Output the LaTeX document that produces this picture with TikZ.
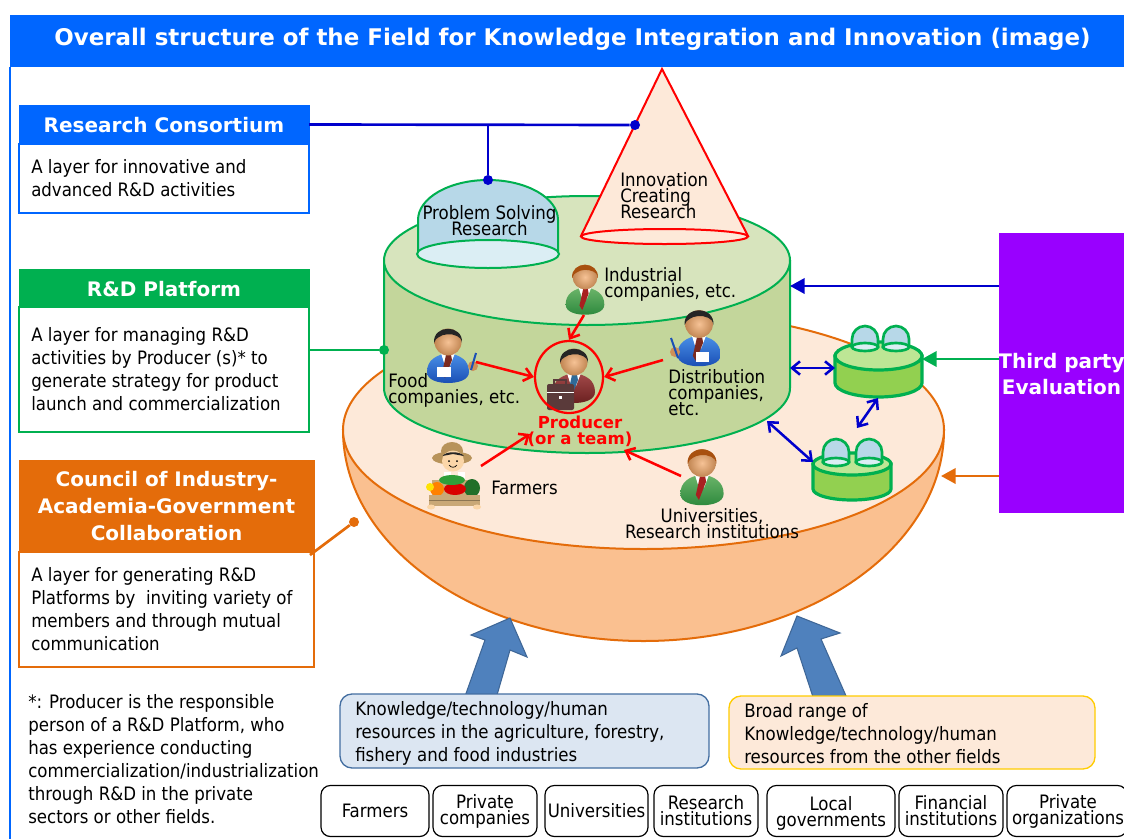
\documentclass[tikz,border=0pt]{standalone}
\usepackage{fontspec}
\setmainfont{DejaVu Sans Condensed}
\newfontfamily\hdrfont{DejaVu Sans}
\usetikzlibrary{arrows.meta,shapes.geometric}
\newcommand{\tightls}{\lineskiplimit -30pt\relax}
\definecolor{hblue}{HTML}{0066FF}
\definecolor{hgreen}{HTML}{00B050}
\definecolor{horange}{HTML}{E46C0A}
\definecolor{lineblue}{HTML}{0000CC}
\definecolor{purp}{HTML}{9900FF}
\definecolor{cylbody}{HTML}{C3D69B}
\definecolor{cyltop}{HTML}{D7E4BD}
\definecolor{peach}{HTML}{FDE9D9}
\definecolor{bowl}{HTML}{FAC090}
\definecolor{dome}{HTML}{B7D8E8}
\definecolor{domelt}{HTML}{DBEEF4}
\definecolor{smbody}{HTML}{92D050}
\definecolor{smtop}{HTML}{BDE695}
\definecolor{bigarrow}{HTML}{4F81BD}
\definecolor{kbfill}{HTML}{DCE6F2}
\definecolor{skin}{HTML}{F2A868}
\definecolor{suitgl}{HTML}{6DB56A}
\definecolor{suitgd}{HTML}{2E8A3E}
\definecolor{suitbl}{HTML}{4A90E8}
\definecolor{suitbd}{HTML}{1A4FB5}
\definecolor{suitrl}{HTML}{A34A4A}
\definecolor{suitrd}{HTML}{6B2020}
\definecolor{hairb}{HTML}{A8500F}
\definecolor{hairk}{HTML}{252525}
\definecolor{tier}{HTML}{A82020}
\definecolor{tieb}{HTML}{7A2A20}
\definecolor{tiep}{HTML}{2F6A98}
\definecolor{tan}{HTML}{B8935A}
\definecolor{boxtan}{HTML}{C9A877}
\definecolor{facec}{HTML}{FBD6A8}
\definecolor{leaf}{HTML}{2F9E3A}
\definecolor{bcase}{HTML}{5A3A3A}
\tikzset{
  boxdim/.style 2 args={minimum width=#1*0.75pt,minimum height=#2*0.75pt,inner sep=0pt,outer sep=0pt},
  hdrtext/.style={font=\fontsize{15}{20}\hdrfont\bfseries,text=white,align=center},
  bodytext/.style={font=\fontsize{13.85}{17.25}\selectfont,align=left,text=black,inner sep=0pt},
  tight/.style={font=\fontsize{13.85}{12}\selectfont\tightls,align=center,text=black,inner sep=0pt},
  tightl/.style={font=\fontsize{13.85}{12}\selectfont\tightls,align=left,text=black,inner sep=0pt},
  dot/.style={circle,inner sep=0pt,minimum size=7.5pt},
  ol/.style={line width=2pt},
  filledtip/.style={-{Triangle[length=11pt,width=11.5pt]},line width=2pt},
  barbtip/.style={-{Straight Barb[length=6pt,width=10pt]},line width=1.9pt,red},
  dbl/.style={{Straight Barb[length=6pt,width=10pt]}-{Straight Barb[length=6pt,width=10pt]},line width=1.9pt,lineblue},
  gbox/.style={draw=black,fill=white,rounded corners=7pt,line width=0.9pt},
  cylst/.style={draw=hgreen,line width=1.5pt},
  smst/.style={draw=hgreen,line width=2.4pt},
  bigar/.style={fill=bigarrow,draw=bigarrow!80!black,line width=0.8pt,line join=miter},
}
% person: x, y, scale, suit light, suit dark, hair, tie
\newcommand{\personicon}[7]{%
  \begin{scope}[shift={(#1,#2)},scale=#3]
    \path[top color=#4,bottom color=#5] (-21,30) .. controls (-21,18) and (-12,13) .. (0,11) .. controls (12,13) and (21,18) .. (21,30) .. controls (21,38) and (10,41) .. (0,41) .. controls (-10,41) and (-21,38) .. (-21,30) -- cycle;
    \fill[white] (-7,11) -- (7,11) -- (2,24) -- (-3,24) -- cycle;
    \fill[#7] (-2,13) -- (3,13) -- (4,18) -- (-3,36) -- (-6,31) -- cycle;
    \shade[inner color=skin!70!white,outer color=skin!80!black] (0,0) circle[radius=13.5];
    \fill[#6] (-14,1) .. controls (-15.5,-18) and (15.5,-18) .. (14,1) .. controls (13.5,-3) and (11.5,-5) .. (9,-6) .. controls (3,-9) and (-5,-8) .. (-9,-5) .. controls (-11,-4) and (-13.5,-2) .. (-14,1) -- cycle;
  \end{scope}}
\begin{document}
\begin{tikzpicture}[x=0.75pt,y=-0.75pt]
\useasboundingbox (0,0) rectangle (1124,839);
\fill[white] (0,0) rectangle (1124,839);
% frame and title
\draw[hblue,line width=0.8pt] (10,67) -- (10,839);
\node[boxdim={1114}{52},fill=hblue] (titlebar) at (567,41) {};
\node[hdrtext,font=\fontsize{17.2}{22}\hdrfont\bfseries] (titletext) at (572.5,39) {Overall structure of the Field for Knowledge Integration and Innovation (image)};

% bowl
\draw[horange,line width=1.5pt,fill=bowl] (343,430) arc[start angle=180,end angle=0,x radius=300.5,y radius=211] -- cycle;
\draw[horange,line width=1.5pt,fill=peach] (643.5,430) ellipse[x radius=300.5,y radius=119];
\draw[bigar] (510,618) -- (527,657) -- (510,650) -- (497,695) -- (465.5,695) -- (485,640) -- (471,635) -- cycle;
\draw[bigar] (797,616) -- (840,633) -- (821,639) -- (846.5,697) -- (813,697) -- (797,648) -- (781,656) -- cycle;
% cylinder
\draw[cylst,fill=cylbody] (384,261) -- (384,388) arc[start angle=180,end angle=0,x radius=203,y radius=65] -- (790,261) -- cycle;
\draw[cylst,fill=cyltop] (587,260.5) ellipse[x radius=203,y radius=64.5];
% problem solving dome
\draw[cylst,fill=dome] (418,254) -- (418,220) arc[start angle=180,end angle=360,x radius=70,y radius=40] -- (558,254) -- cycle;
\draw[cylst,fill=domelt] (488,254) ellipse[x radius=71,y radius=14];
% cone
\draw[red,line width=1.5pt,fill=peach] (662,69) -- (748,236) arc[start angle=0,end angle=180,x radius=83.5,y radius=7.5] -- cycle;
\draw[red,line width=1.5pt,fill=peach] (664.5,236.5) ellipse[x radius=83.5,y radius=7.5];

\node[tight] (psr) at (489.5,221) {Problem Solving\\Research};
\node[tightl,anchor=west] (icr) at (620,196) {Innovation\\Creating\\Research};

% left column
\node[boxdim={290}{39},fill=hblue,draw=hblue] (rchead) at (164,124.5) {};
\node[hdrtext] (rchtext) at (164,125.5) {Research Consortium};
\node[boxdim={290}{69},draw=hblue,line width=0.8pt,fill=white] (rcbody) at (164,178.5) {};
\node[bodytext,anchor=west] (rctext) at (31,178.5) {A layer for innovative and\\advanced R\&D activities};
\node[boxdim={290}{38},fill=hgreen,draw=hgreen] (rdhead) at (164,288) {};
\node[hdrtext] (rdhtext) at (164,289) {R\&D Platform};
\node[boxdim={290}{125},draw=hgreen,line width=0.8pt,fill=white] (rdbody) at (164,369.5) {};
\node[bodytext,anchor=west] (rdtext) at (31,369.5) {A layer for managing R\&D\\activities by Producer (s)* to\\generate strategy for product\\launch and commercialization};
\node[boxdim={295}{92},fill=horange,draw=horange] (cchead) at (166.5,506) {};
\node[hdrtext,font=\fontsize{15}{20.25}\hdrfont\bfseries] (cchtext) at (cchead) {Council of Industry-\\Academia-Government\\Collaboration};
\node[boxdim={295}{115},draw=horange,line width=0.8pt,fill=white] (ccbody) at (166.5,609.5) {};
\node[bodytext,anchor=west] (cctext) at (31,609.5) {A layer for generating R\&D\\Platforms by\ \ inviting variety of\\members and through mutual\\communication};
\node[bodytext,anchor=north west] (foot) at (28,694) {*: Producer is the responsible\\person of a R\&D Platform, who\\has experience conducting\\commercialization/industrialization\\through R\&D in the private\\sectors or other fields.};

% links from left column
\node[dot,fill=lineblue] (dcone) at (635,125) {};
\node[dot,fill=lineblue] (ddome) at (488,180) {};
\coordinate (jn) at (488,124.5);
\draw[lineblue,ol] (rchead.east) -- (dcone);
\draw[lineblue,ol] (jn) -- (ddome);
\node[dot,fill=hgreen] (dcyl) at (384,350) {};
\draw[hgreen,ol] (rdbody.east |- dcyl) -- (dcyl);
\node[dot,fill=horange] (dbowl) at (354,522) {};
\coordinate (ccj) at (310,555);
\draw[horange,ol] (ccj) -- (dbowl);

% third party
\node[boxdim={125}{280},fill=purp] (third) at (1061.5,373) {};
\node[hdrtext,font=\fontsize{15}{19.5}\hdrfont\bfseries] (thirdtext) at (1061.5,374) {Third party\\Evaluation};
\coordinate (t1) at (790,286);
\coordinate (t2) at (922,359);
\coordinate (t3) at (941,476);
\draw[lineblue,filledtip] (third.west |- t1) -- (t1);
\draw[hgreen,filledtip] (third.west |- t2) -- (t2);
\draw[horange,filledtip] (third.west |- t3) -- (t3);

% small cylinders
\foreach \cx/\cy/\rx/\ry/\h/\da/\db/\dt/\dbase in {878.5/356/43.5/14/27/865/896/326/347, 852/464/39/11/25/836/869/439/462}{
  \draw[smst,fill=smbody] (\cx-\rx,\cy) -- (\cx-\rx,\cy+\h) arc[start angle=180,end angle=0,x radius=\rx,y radius=\ry] -- (\cx+\rx,\cy) -- cycle;
  \draw[smst,fill=smtop] (\cx,\cy) ellipse[x radius=\rx,y radius=\ry];
  \foreach \dx in {\da,\db}{
    \draw[hgreen,line width=2pt,fill=dome] (\dx-13,\dbase) -- (\dx-13,\dt+13) arc[start angle=180,end angle=360,x radius=13,y radius=13] -- (\dx+13,\dbase) -- cycle;
    \draw[hgreen,line width=2pt,fill=domelt] (\dx,\dbase) ellipse[x radius=13,y radius=4];
  }
}
\coordinate (s1) at (790,368);\coordinate (s2) at (835,368);
\coordinate (s3) at (878,398);\coordinate (s4) at (857,428);
\coordinate (s5) at (767,421);\coordinate (s6) at (813,462);
\draw[dbl] (s1) -- (s2);
\draw[dbl] (s3) -- (s4);
\draw[dbl] (s5) -- (s6);

% people
\personicon{585}{277}{0.92}{suitgl}{suitgd}{hairb}{tier}
\personicon{702}{463}{1.03}{suitgl}{suitgd}{hairb}{tier}
\personicon{448}{342}{1}{suitbl}{suitbd}{hairk}{tieb}
\fill[white] (437,367) rectangle (451,377);
\fill[skin!85!black] (473,366) circle[radius=5];
\draw[suitbd,line width=1.5pt] (471,370) -- (476,353);
\personicon{699}{324}{1.03}{suitbl}{suitbd}{hairk}{tieb}
\fill[white] (696,352) rectangle (709,362);
\fill[skin!85!black] (675,352) circle[radius=5];
\draw[suitbd,line width=1.5pt] (678,358) -- (671,338);

% producer
\personicon{574}{362}{1}{suitrl}{suitrd}{hairk}{tiep}
\fill[rounded corners=1.5pt,fill=bcase] (547,384) rectangle (574,410);
\draw[bcase,line width=1.2pt] (554,384) -- (554,380) -- (566,380) -- (566,384);
\draw[white,line width=0.5pt] (547,392) -- (574,392);
\fill[white] (559,396) rectangle (562,399);
\node[ellipse,draw=red,line width=1.7pt,minimum width=51pt,minimum height=54pt,inner sep=0pt] (prod) at (569,377) {};

% farmer
\fill[tan] (452,458) ellipse[x radius=20,y radius=6.5];
\fill[tan] (452,451) ellipse[x radius=11,y radius=9];
\fill[facec] (453,461) ellipse[x radius=11,y radius=10.5];
\fill[hairk] (442.5,456) .. controls (446,451) and (460,451) .. (464,456) -- (453,454) -- cycle;
\fill[black] (449,461) circle[radius=1];
\fill[black] (457,461) circle[radius=1];
\draw[black,line width=0.5pt] (449,465) .. controls (451,468) and (455,468) .. (457,465);
\fill[white] (444,472) rectangle (451,484);
\fill[white] (458,472) rectangle (465,484);
\fill[boxtan] (432,480) rectangle (476,495);
\fill[leaf!70!black] (472,488) ellipse[x radius=8,y radius=9];
\fill[orange] (437,489) circle[radius=7];
\fill[yellow!85!orange] (430,487) circle[radius=4];
\fill[red!85!black] (455,489) ellipse[x radius=11,y radius=6];
\fill[leaf] (452,480) ellipse[x radius=13,y radius=5];
\fill[boxtan] (429,495) rectangle (480,506);
\draw[boxtan!70!black,line width=0.7pt] (429,500) -- (480,500);
\fill[facec] (431,507) ellipse[x radius=4,y radius=2.5];
\fill[facec] (477,507) ellipse[x radius=4,y radius=2.5];

% people labels
\node[tightl,anchor=west] (lind) at (604,284) {Industrial\\companies, etc.};
\node[tightl,anchor=west] (lfood) at (388,390) {Food\\companies, etc.};
\node[tightl,anchor=west] (ldist) at (668,393) {Distribution\\companies,\\etc.};
\node[tightl,anchor=west] (lfarm) at (491,488) {Farmers};
\node[tight] (luni) at (712,524) {Universities,\\Research institutions};
\node[font=\fontsize{12.4}{12}\hdrfont\bfseries\tightls,text=red,align=center,inner sep=0pt] (lprod) at (580,431) {Producer\\(or a team)};

% red arrows
\coordinate (a1) at (584,315);
\coordinate (a2) at (476,362);
\coordinate (a3) at (663,360);
\coordinate (a4) at (481,466);\coordinate (a4t) at (530,434);
\coordinate (a5) at (681,476);\coordinate (a5t) at (624,450);
\draw[barbtip] (a1) -- (prod.north);
\draw[barbtip] (a2) -- (prod.west);
\draw[barbtip] (a3) -- (prod.east);
\draw[barbtip] (a4) -- (a4t);
\draw[barbtip] (a5) -- (a5t);

% knowledge boxes
\node[boxdim={369}{74},rounded corners=9pt,fill=kbfill,draw=bigarrow!85!black,line width=1pt] (kb1) at (524.5,731) {};
\node[bodytext,anchor=west] (kt1) at (355,733.5) {Knowledge/technology/human\\resources in the agriculture, forestry,\\fishery and food industries};
\node[boxdim={366}{73},rounded corners=9pt,fill=peach,draw=orange!40!yellow,line width=1pt] (kb2) at (912,732.5) {};
\node[bodytext,anchor=west] (kt2) at (744,734) {Broad range of\\Knowledge/technology/human\\resources from the other fields};

% bottom boxes
\node[boxdim={108}{51},gbox] (b1) at (375,811) {};
\node[tight] (bt1) at (b1) {Farmers};
\node[boxdim={104}{51},gbox] (b2) at (485,811) {};
\node[tight] (bt2) at (b2) {Private\\companies};
\node[boxdim={103}{51},gbox] (b3) at (596.5,811) {};
\node[tight] (bt3) at (b3) {Universities};
\node[boxdim={104}{51},gbox] (b4) at (706,811) {};
\node[tight] (bt4) at (b4) {Research\\institutions};
\node[boxdim={128}{51},gbox] (b5) at (831,811) {};
\node[tight] (bt5) at (831,813) {Local\\governments};
\node[boxdim={104}{51},gbox] (b6) at (951,811) {};
\node[tight] (bt6) at (b6) {Financial\\institutions};
\node[boxdim={120}{51},gbox] (b7) at (1067,811) {};
\node[tight] (bt7) at (1068,811) {Private\\organizations};
\end{tikzpicture}
\end{document}
